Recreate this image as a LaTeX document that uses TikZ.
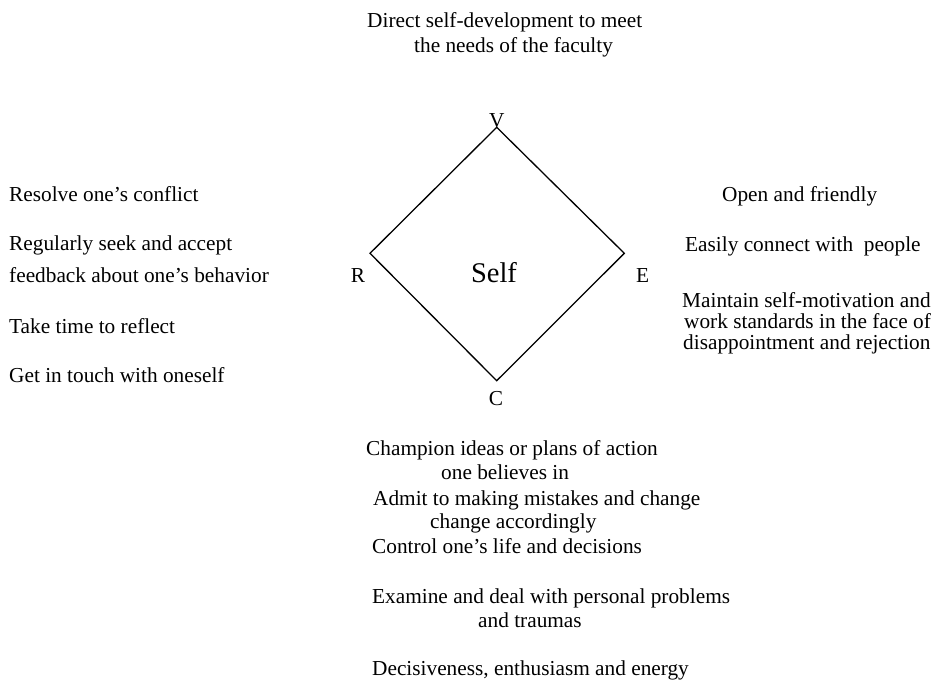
\documentclass[tikz,border=0pt]{standalone}
\usepackage{fontspec}
\setmainfont{Liberation Serif}
\begin{document}
\begin{tikzpicture}[x=1pt,y=-1pt,
  txt/.style={anchor=base west, inner sep=0pt, font=\fontsize{21.3}{21.3}\selectfont},
  lbl/.style={anchor=base, inner sep=0pt, font=\fontsize{21.3}{21.3}\selectfont},
  edge/.style={line width=1.3pt, line join=miter}]
\useasboundingbox (0,0) rectangle (933,682);
\fill[white] (0,0) rectangle (933,682);
% diamond
\coordinate (v) at (496.7,127.3);
\coordinate (e) at (624.3,253.3);
\coordinate (c) at (496.7,380.7);
\coordinate (r) at (370,253.3);
\draw[edge] (v) -- (e) -- (c) -- (r) -- cycle;
\node[lbl] (lv) at (496.7,127) {V};
\node[lbl] (lr) at (358,282) {R};
\node[lbl] (le) at (642.5,282) {E};
\node[lbl] (lc) at (496,405) {C};
\node[anchor=base, inner sep=0pt, font=\fontsize{28.5}{28.5}\selectfont] (self) at (494,282) {Self};
% top
\node[txt] (t1) at (367,28) {Direct self-development to meet};
\node[txt] (t2) at (414,53) {the needs of the faculty};
% left
\node[txt] (l1) at (9,201) {Resolve one’s conflict};
\node[txt] (l2) at (9,250) {Regularly seek and accept};
\node[txt] (l3) at (9,282) {feedback about one’s behavior};
\node[txt] (l4) at (9,333) {Take time to reflect};
\node[txt] (l5) at (9,382) {Get in touch with oneself};
% right
\node[txt] (r1) at (722,201) {Open and friendly};
\node[txt] (r2) at (685,251) {Easily connect with\ \ people};
\node[txt] (r3) at (682,307) {Maintain self-motivation and};
\node[txt] (r4) at (684,328) {work standards in the face of};
\node[txt] (r5) at (683,349) {disappointment and rejection};
% bottom
\node[txt] (b1) at (366,455) {Champion ideas or plans of action};
\node[txt] (b2) at (441,479) {one believes in};
\node[txt] (b3) at (373,505) {Admit to making mistakes and change};
\node[txt] (b4) at (430,528) {change accordingly};
\node[txt] (b5) at (372,553) {Control one’s life and decisions};
\node[txt] (b6) at (372,603) {Examine and deal with personal problems};
\node[txt] (b7) at (478,627) {and traumas};
\node[txt] (b8) at (372,675) {Decisiveness, enthusiasm and energy};
\end{tikzpicture}
\end{document}
